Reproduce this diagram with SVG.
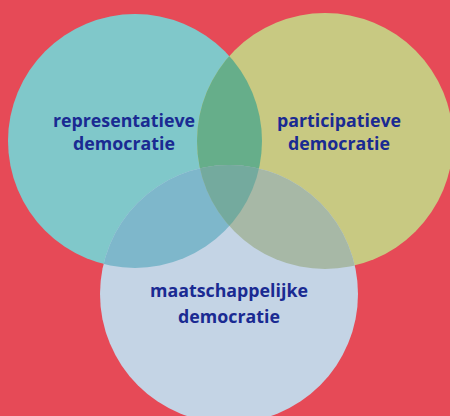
<svg xmlns="http://www.w3.org/2000/svg" width="450" height="416" viewBox="0 0 450 416">
<style>
.lbl{font-family:"Open Sans","DejaVu Sans",sans-serif;font-weight:bold;font-size:17.8px;fill:#1A2A92;text-anchor:middle}
</style>
<defs>
<clipPath id="cT"><circle cx="135" cy="141" r="127"/></clipPath>
<clipPath id="cY"><circle cx="325" cy="141" r="128"/></clipPath>
<clipPath id="cB"><circle cx="229" cy="294" r="129"/></clipPath>
</defs>
<rect width="450" height="416" fill="#E64A57"/>
<g id="teal"><circle cx="135" cy="141" r="127" fill="#80C8CA"/></g>
<g id="yellow"><circle cx="325" cy="141" r="128" fill="#C8C982"/></g>
<g id="bottom"><circle cx="229" cy="294" r="129" fill="#C4D4E5"/></g>
<g id="overlaps">
<circle cx="325" cy="141" r="128" fill="#66AE8A" clip-path="url(#cT)"/>
<g clip-path="url(#cB)">
<circle cx="135" cy="141" r="127" fill="#7EB7CB"/>
<circle cx="325" cy="141" r="128" fill="#A7B8A6"/>
<g clip-path="url(#cT)"><circle cx="325" cy="141" r="128" fill="#74AA9E"/></g>
</g>
</g>
<g id="labels">
<text class="lbl" x="124" y="127">representatieve</text>
<text class="lbl" x="124" y="150">democratie</text>
<text class="lbl" x="339" y="127">participatieve</text>
<text class="lbl" x="339" y="150">democratie</text>
<text class="lbl" x="229" y="297">maatschappelijke</text>
<text class="lbl" x="229" y="323">democratie</text>
</g>
</svg>
